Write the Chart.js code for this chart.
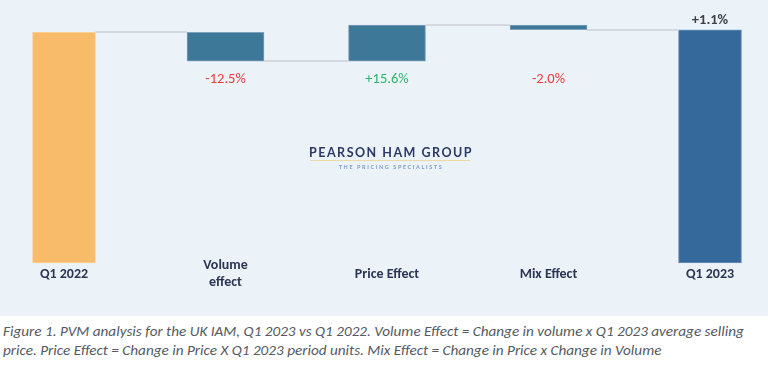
<!DOCTYPE html>
<html>
<head>
<meta charset="utf-8">
<script src="https://cdn.jsdelivr.net/npm/chart.js@4.4.1/dist/chart.umd.min.js"></script>
<style>
    html, body { margin: 0; padding: 0; background: #ffffff; }
    #wrap { position: relative; width: 768px; height: 316px; background: #ebf3f8; }
    #caption {
        margin: 0; padding: 6px 0 0 3px;
        font-family: Carlito, Lato, sans-serif; font-style: italic; font-size: 15.2px;
        line-height: 19px; color: #555a62; white-space: nowrap;
    }
</style>
</head>
<body>
<div id="wrap"><canvas id="pvm" width="768" height="316"></canvas></div>
<p id="caption">Figure 1. PVM analysis for the UK IAM, Q1 2023 vs Q1 2022. Volume Effect = Change in volume x Q1 2023 average selling<br>price. Price Effect = Change in Price X Q1 2023 period units. Mix Effect = Change in Price x Change in Volume</p>

<script>
// waterfall: start total, three effects, end total
const categories = ["Q1 2022", ["Volume", "effect"], "Price Effect", "Mix Effect", "Q1 2023"];
const startValue = 100;
const effects = [-12.5, 15.6, -2.0];
const effectLabels = ["-12.5%", "+15.6%", "-2.0%"];
const endLabel = "+1.1%";

const totalColors = ["#f8bb69", "#35699c"];
const effectColor = "#3d7898";

// running levels after each bar
const levels = [startValue];
effects.forEach((e) => levels.push(+(levels[levels.length - 1] + e).toFixed(1)));
const endValue = levels[levels.length - 1];

const totalData = [[0, startValue], null, null, null, [0, endValue]];
const effectData = [null];
effects.forEach((e, i) => effectData.push([levels[i], levels[i + 1]]));
effectData.push(null);

const font = "Carlito, Lato, sans-serif";

// connector lines, value labels, category labels, logo
const extrasPlugin = {
    id: "extras",
    afterDatasetsDraw(chart) {
        const ctx = chart.ctx;
        const x = chart.scales.x;
        const y = chart.scales.y;
        const bars = categories.map((c, i) => {
            const m = chart.getDatasetMeta(i === 0 || i === categories.length - 1 ? 0 : 1);
            return m.data[i];
        });

        ctx.save();
        ctx.strokeStyle = "#d3d9df";
        ctx.lineWidth = 2;
        for (let i = 0; i < bars.length - 1; i++) {
            const a = bars[i].getProps(["x", "width"], true);
            const b = bars[i + 1].getProps(["x", "width"], true);
            const py = Math.round(y.getPixelForValue(levels[i]));
            ctx.beginPath();
            ctx.moveTo(a.x + a.width / 2, py);
            ctx.lineTo(b.x - b.width / 2, py);
            ctx.stroke();
        }

        // effect labels sit on one row under the lowest effect bar
        const lowest = Math.min(...levels);
        const labelY = y.getPixelForValue(lowest) + 18;
        ctx.font = "14.5px " + font;
        ctx.textAlign = "center";
        ctx.textBaseline = "middle";
        effects.forEach((e, i) => {
            ctx.fillStyle = e < 0 ? "#ec3b3b" : "#2fb46a";
            ctx.fillText(effectLabels[i], bars[i + 1].x, labelY);
        });

        const last = bars[bars.length - 1];
        ctx.font = "bold 14.5px " + font;
        ctx.fillStyle = "#3e4146";
        ctx.fillText(endLabel, last.x, y.getPixelForValue(endValue) - 9);

        // category labels under the bars
        ctx.font = "bold 14px " + font;
        ctx.fillStyle = "#2c3553";
        const base = y.getPixelForValue(0);
        categories.forEach((c, i) => {
            const lines = Array.isArray(c) ? c : [c];
            const tx = x.getPixelForTick(i);
            lines.forEach((ln, k) => {
                const off = (k - (lines.length - 1) / 2) * 16.5;
                ctx.fillText(ln, tx, base + 11 + off);
            });
        });

        // logo watermark
        const cx = 390;
        ctx.font = "bold 12.5px Lato, sans-serif";
        ctx.fillStyle = "#2b3866";
        ctx.letterSpacing = "1.5px";
        ctx.fillText("PEARSON HAM GROUP", cx + 1, 153);
        ctx.strokeStyle = "#ecd9a8";
        ctx.lineWidth = 1;
        ctx.beginPath();
        ctx.moveTo(310, 160.5);
        ctx.lineTo(470, 160.5);
        ctx.stroke();
        ctx.font = "bold 5.5px Lato, sans-serif";
        ctx.fillStyle = "#7b9cc6";
        ctx.letterSpacing = "1.6px";
        ctx.fillText("THE PRICING SPECIALISTS", cx + 1, 167);
        ctx.restore();
    },
};

new Chart(document.getElementById("pvm"), {
    type: "bar",
    data: {
        labels: categories,
        datasets: [
            {
                data: totalData,
                backgroundColor: [totalColors[0], null, null, null, totalColors[1]],
                borderColor: ["#fbcf93", null, null, null, "#6f93bb"],
                borderWidth: 1,
                borderSkipped: false,
                barThickness: 63,
                grouped: false,
                clip: false,
            },
            {
                data: effectData,
                backgroundColor: effectColor,
                borderColor: "#7fa3ba",
                borderWidth: 1,
                borderSkipped: false,
                barThickness: 77,
                grouped: false,
                clip: false,
            },
        ],
    },
    options: {
        responsive: false,
        animation: false,
        layout: { padding: { left: 64, right: 58, top: 0, bottom: 53 } },
        plugins: { legend: { display: false }, tooltip: { enabled: false } },
        scales: {
            x: {
                offset: false,
                grid: { display: false, drawTicks: false },
                border: { display: false },
                ticks: { display: false },
            },
            y: { display: false, min: 0, max: 114 },
        },
    },
    plugins: [extrasPlugin],
});
</script>
</body>
</html>
